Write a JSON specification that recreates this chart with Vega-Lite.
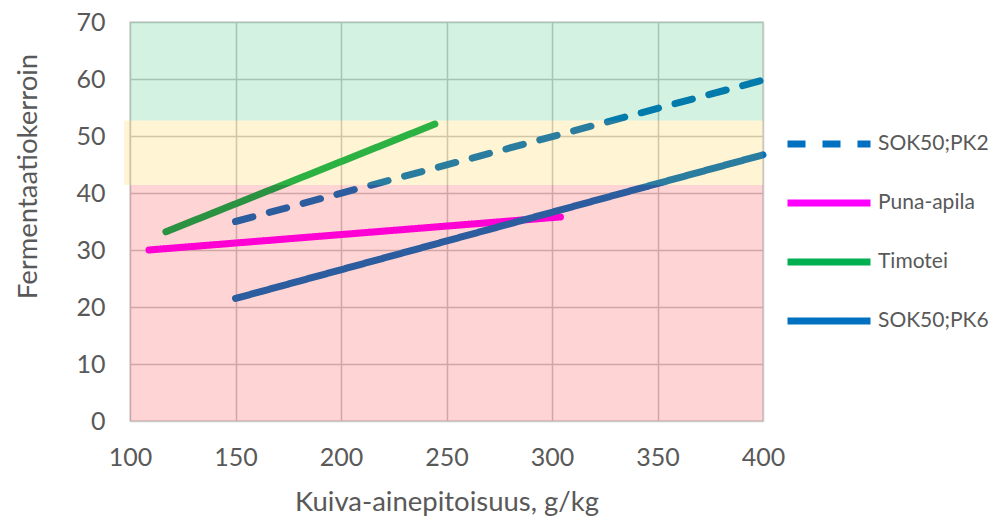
{
  "$schema": "https://vega.github.io/schema/vega-lite/v6.json",
  "width": 633,
  "height": 399,
  "autosize": "none",
  "padding": {"left": 130, "top": 22, "right": 243, "bottom": 102},
  "background": "white",
  "config": {
    "font": "Lato",
    "view": {"stroke": "#d9d9d9", "strokeWidth": 1.5},
    "axis": {
      "labelColor": "#595959",
      "titleColor": "#595959",
      "labelFontSize": 25,
      "titleFontSize": 27.5,
      "titleFontWeight": "normal",
      "gridColor": "#c8c8c8",
      "gridWidth": 1.5,
      "domain": false,
      "ticks": false,
      "labelFlush": false
    }
  },
  "datasets": {
    "lines": [
      {"series": "SOK50;PK2", "kuiva": 150, "kerroin": 35.0},
      {"series": "SOK50;PK2", "kuiva": 400, "kerroin": 59.8},
      {"series": "Puna-apila", "kuiva": 109, "kerroin": 30.0},
      {"series": "Puna-apila", "kuiva": 304, "kerroin": 35.8},
      {"series": "Timotei", "kuiva": 117, "kerroin": 33.2},
      {"series": "Timotei", "kuiva": 244.5, "kerroin": 52.1},
      {"series": "SOK50;PK6", "kuiva": 150, "kerroin": 21.5},
      {"series": "SOK50;PK6", "kuiva": 400, "kerroin": 46.7}
    ],
    "bands": [
      {"zone": "huono", "lo": 0, "hi": 41.4, "x0": 100},
      {"zone": "kohtalainen", "lo": 41.4, "hi": 52.7, "x0": 97.2},
      {"zone": "hyvä", "lo": 52.7, "hi": 70, "x0": 100}
    ]
  },
  "layer": [
    {
      "data": {"name": "lines"},
      "mark": {"type": "line", "strokeWidth": 7, "strokeCap": "round"},
      "encoding": {
        "x": {
          "field": "kuiva", "type": "quantitative",
          "scale": {"domain": [100, 400], "nice": false},
          "axis": {"values": [100, 150, 200, 250, 300, 350, 400], "title": "Kuiva-ainepitoisuus, g/kg", "labelPadding": 24, "titlePadding": 18}
        },
        "y": {
          "field": "kerroin", "type": "quantitative",
          "scale": {"domain": [0, 70], "nice": false},
          "axis": {"values": [0, 10, 20, 30, 40, 50, 60, 70], "title": "Fermentaatiokerroin", "labelPadding": 25, "titlePadding": 33, "titleY": 154}
        },
        "color": {
          "field": "series", "type": "nominal",
          "scale": {"domain": ["SOK50;PK2", "Puna-apila", "Timotei", "SOK50;PK6"], "range": ["#0070c0", "#ff00ff", "#00b050", "#0070c0"]},
          "legend": {
            "title": null, "orient": "none", "legendX": 654, "legendY": 77,
            "symbolType": "stroke", "symbolSize": 6889, "symbolStrokeWidth": 7,
            "labelFontSize": 21, "labelColor": "#595959", "rowPadding": 0, "labelOffset": 4
          }
        },
        "strokeDash": {
          "field": "series", "type": "nominal",
          "scale": {"domain": ["SOK50;PK2", "Puna-apila", "Timotei", "SOK50;PK6"], "range": [[18, 17], [1, 0], [1, 0], [1, 0]]},
          "legend": null
        },
        "detail": {"field": "series"}
      }
    },
    {
      "data": {"name": "bands"},
      "transform": [{"filter": "datum.zone == 'huono'"}],
      "mark": {"type": "rect", "color": "#ff0000", "opacity": 0.17},
      "encoding": {
        "x": {"field": "x0", "type": "quantitative"},
        "x2": {"datum": 400},
        "y": {"field": "lo", "type": "quantitative"},
        "y2": {"field": "hi"}
      }
    },
    {
      "data": {"name": "bands"},
      "transform": [{"filter": "datum.zone == 'kohtalainen'"}],
      "mark": {"type": "rect", "color": "#ffc000", "opacity": 0.17},
      "encoding": {
        "x": {"field": "x0", "type": "quantitative"},
        "x2": {"datum": 400},
        "y": {"field": "lo", "type": "quantitative"},
        "y2": {"field": "hi"}
      }
    },
    {
      "data": {"name": "bands"},
      "transform": [{"filter": "datum.zone == 'hyvä'"}],
      "mark": {"type": "rect", "color": "#00b050", "opacity": 0.17},
      "encoding": {
        "x": {"field": "x0", "type": "quantitative"},
        "x2": {"datum": 400},
        "y": {"field": "lo", "type": "quantitative"},
        "y2": {"field": "hi"}
      }
    }
  ]
}
